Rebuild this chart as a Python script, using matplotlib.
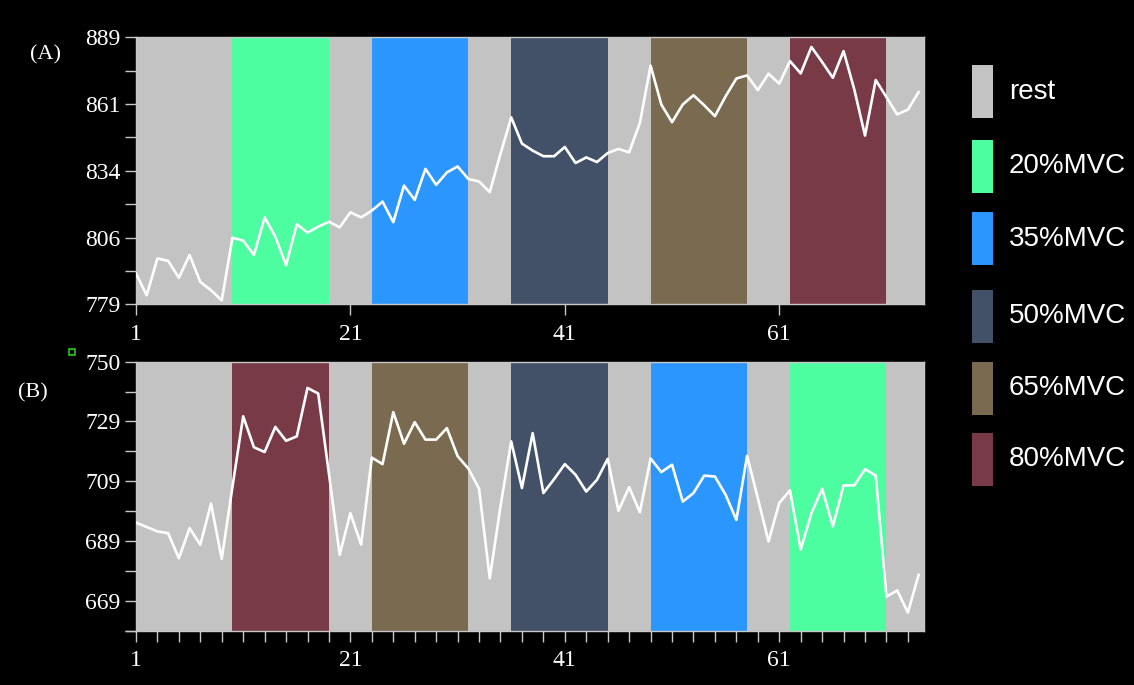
import numpy as np
import matplotlib
matplotlib.use('Agg')
import matplotlib.pyplot as plt
from matplotlib.patches import Rectangle

# --- data -------------------------------------------------------------
trial = np.arange(1, 75)

values_a = [791.7, 782.7, 797.9, 796.9, 789.9, 799.3, 788.2, 784.8, 780.6, 806.4,
            805.2, 799.3, 814.8, 806.8, 795.1, 812.0, 808.5, 811.0, 813.0, 810.7,
            816.9, 814.8, 817.6, 821.3, 812.8, 827.9, 822.0, 834.8, 828.2, 833.3,
            835.8, 830.6, 829.6, 825.2, 841.0, 856.0, 845.2, 842.3, 840.0, 840.0,
            843.8, 837.2, 839.5, 837.6, 841.3, 843.0, 841.6, 853.7, 877.3, 861.3,
            854.0, 861.3, 865.1, 861.0, 856.5, 864.7, 872.0, 873.3, 867.2, 874.0,
            869.9, 879.2, 874.1, 885.0, 878.8, 872.3, 883.3, 867.5, 848.5, 871.4,
            864.3, 857.2, 859.2, 866.4]

values_b = [695.5, 694.0, 692.5, 691.9, 683.4, 693.6, 688.0, 701.9, 683.2, 707.6,
            731.5, 721.0, 719.4, 727.9, 723.2, 724.7, 741.1, 739.2, 712.0, 684.6,
            698.7, 688.0, 717.5, 715.3, 732.9, 722.2, 729.5, 723.6, 723.6, 727.5,
            718.0, 713.8, 707.0, 676.6, 701.0, 723.0, 707.2, 725.8, 705.5, 710.2,
            715.3, 711.7, 706.0, 710.0, 717.1, 699.5, 707.5, 699.0, 717.2, 712.6,
            715.1, 702.6, 705.5, 711.4, 711.1, 704.9, 696.4, 718.1, 703.8, 689.1,
            702.1, 706.4, 686.3, 698.7, 707.0, 694.2, 708.1, 708.1, 713.6, 711.4,
            670.4, 672.5, 665.0, 677.8]

conditions = ['rest', '20%MVC', '35%MVC', '50%MVC', '65%MVC', '80%MVC']
cond_colors = ['#c3c3c3', '#4cfe9f', '#2a96fe', '#425168', '#7a6a4f', '#773a46']

block_starts = [10, 23, 36, 49, 62]
block_len = 9
order_a = ['20%MVC', '35%MVC', '50%MVC', '65%MVC', '80%MVC']
order_b = ['80%MVC', '65%MVC', '50%MVC', '35%MVC', '20%MVC']

ylim_a = (779, 889)
ylim_b = (658.875, 750)
xticklabels = [1, 21, 41, 61]

color_of = dict(zip(conditions, cond_colors))

serif = ['Liberation Serif', 'DejaVu Serif']
sans = ['Liberation Sans', 'DejaVu Sans']

fig = plt.figure(figsize=(11.34, 6.85), dpi=100)
fig.patch.set_facecolor('black')

ax_a = fig.add_axes([0.1199, 0.5558, 0.6949, 0.3898])
ax_b = fig.add_axes([0.1199, 0.0793, 0.6949, 0.3927])


def draw_panel(ax, vals, order, ylim, minor_x):
    ax.set_facecolor(color_of['rest'])
    for start, name in zip(block_starts, order):
        ax.axvspan(start, start + block_len, color=color_of[name], lw=0, zorder=1)
    ax.plot(trial, vals, color='white', lw=1.9, zorder=3)
    ax.set_xlim(1, 74.5)
    ax.set_ylim(*ylim)

    span = ylim[1] - ylim[0]
    if ylim[1] == 889:
        major = np.linspace(ylim[0], ylim[1], 5)
        minor = major[:-1] + span / 8
    else:
        step = 20.25
        major = ylim[1] - step * np.arange(5)
        minor = np.concatenate([major - step / 2, [ylim[0]]])
    ax.set_yticks(major)
    ax.set_yticklabels([str(int(v)) for v in major])
    ax.set_yticks(minor, minor=True)

    ax.set_xticks(xticklabels)
    ax.set_xticklabels([str(v) for v in xticklabels])
    if minor_x:
        ax.set_xticks(np.arange(1, 75, 2), minor=True)

    for s in ax.spines.values():
        s.set_color('#c8c8c8')
        s.set_linewidth(1.0)
    ax.tick_params(which='both', colors='#c8c8c8', length=8, width=1.0,
                   direction='out')
    ax.tick_params(axis='y', which='major', pad=3)
    ax.tick_params(axis='x', which='major', pad=6)
    for lab in ax.get_xticklabels() + ax.get_yticklabels():
        lab.set_color('white')
        lab.set_family(serif)
        lab.set_fontsize(17)


draw_panel(ax_a, values_a, order_a, ylim_a, False)
draw_panel(ax_b, values_b, order_b, ylim_b, True)

fig.text(0.040, 0.920, '(A)', color='white', fontsize=16, family=serif,
         ha='center', va='center')
fig.text(0.029, 0.426, '(B)', color='white', fontsize=16, family=serif,
         ha='center', va='center')

# small green marker seen in the source image
fig.add_artist(Rectangle((69 / 1134, 1 - 355 / 685), 6 / 1134, 6 / 685,
                         transform=fig.transFigure, fill=False,
                         edgecolor='#22c822', lw=1.2))

# legend drawn by hand
leg_y = [91.7, 166, 239, 316, 388, 459]
for name, col, yc in zip(conditions, cond_colors, leg_y):
    fig.add_artist(Rectangle((972 / 1134, 1 - (yc + 26.5) / 685), 21 / 1134,
                             53 / 685, transform=fig.transFigure,
                             facecolor=col, edgecolor='none'))
    fig.text(1009 / 1134, 1 - yc / 685, name, color='white', fontsize=20,
             family=sans, ha='left', va='center')

fig.savefig('out.png', dpi=100, facecolor='black')
